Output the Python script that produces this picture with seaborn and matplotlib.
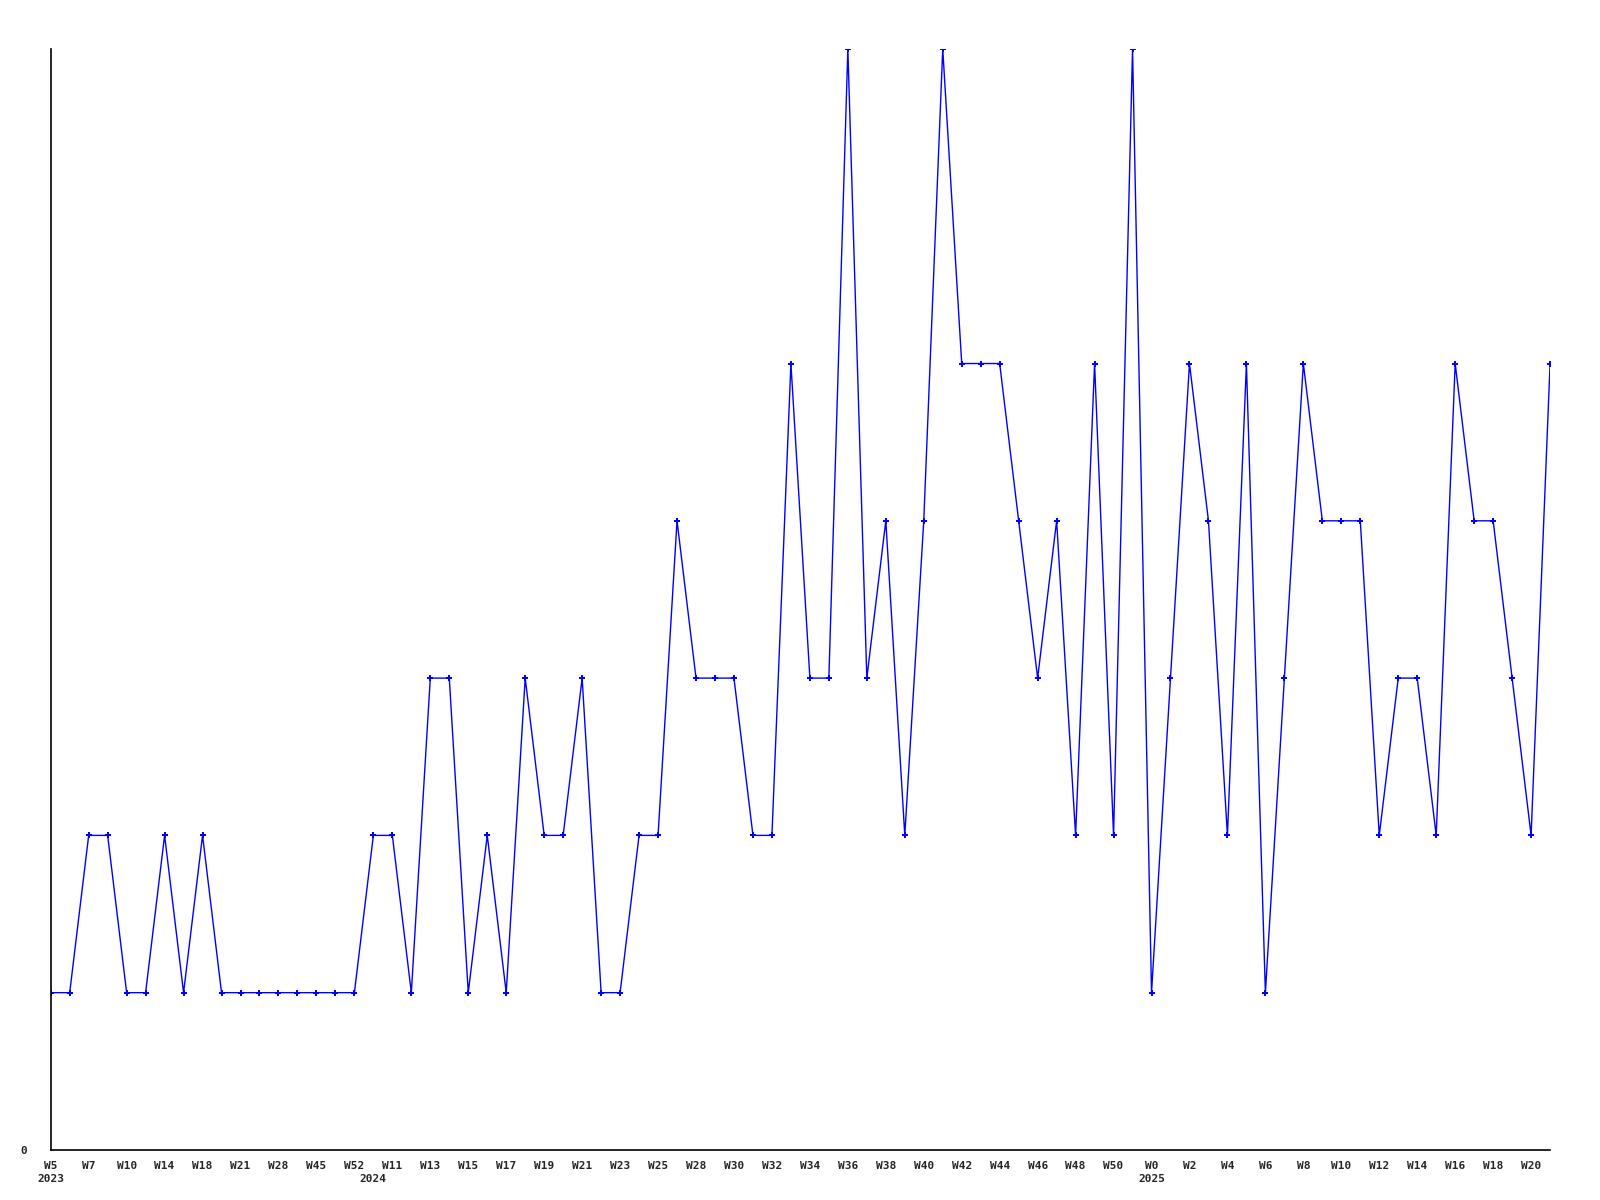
import numpy as np
import pandas as pd
import matplotlib
matplotlib.use('Agg')
import matplotlib.pyplot as plt
import seaborn as sns
from matplotlib.transforms import blended_transform_factory

counts = [1, 1, 2, 2, 1, 1, 2, 1, 2, 1,
          1, 1, 1, 1, 1, 1, 1, 2, 2, 1,
          3, 3, 1, 2, 1, 3, 2, 2, 3, 1,
          1, 2, 2, 4, 3, 3, 3, 2, 2, 5,
          3, 3, 7, 3, 4, 2, 4, 7, 5, 5,
          5, 4, 3, 4, 2, 5, 2, 7, 1, 3,
          5, 4, 2, 5, 1, 3, 5, 4, 4, 4,
          2, 3, 3, 2, 5, 4, 4, 3, 2, 5]

week_labels = ['W5', 'W7', 'W10', 'W14', 'W18', 'W21', 'W28', 'W45', 'W52', 'W11',
               'W13', 'W15', 'W17', 'W19', 'W21', 'W23', 'W25', 'W28', 'W30', 'W32',
               'W34', 'W36', 'W38', 'W40', 'W42', 'W44', 'W46', 'W48', 'W50', 'W0',
               'W2', 'W4', 'W6', 'W8', 'W10', 'W12', 'W14', 'W16', 'W18', 'W20']
year_labels = ['2023', '2024', '2025']
year_starts = [0, 17, 58]

df = pd.DataFrame({'idx': np.arange(len(counts)), 'count': counts})

sns.set_style('white')
plt.rcParams['font.family'] = ['DejaVu Sans Mono']

fig = plt.figure(figsize=(16, 12), dpi=100)
ax = fig.add_axes([0.0317, 0.0417, 0.9371, 0.9175])

sns.lineplot(data=df, x='idx', y='count', ax=ax, color='#0000FF', linewidth=1.0,
             marker='P', markersize=4.5, markeredgewidth=0, estimator=None)

ax.set_xlim(0, len(counts) - 1)
ax.set_ylim(0, 7)
sns.despine(ax=ax)
for s in ['left', 'bottom']:
    ax.spines[s].set_color('black')
    ax.spines[s].set_linewidth(1.2)

ax.set_xticks(np.arange(0, len(counts), 2))
ax.set_xticklabels(week_labels, fontsize=8, fontweight='bold')
ax.set_yticks([0])
ax.set_yticklabels(['0'], fontsize=8, fontweight='bold')
ax.tick_params(axis='x', length=0, pad=8)
ax.tick_params(axis='y', length=0, pad=17)
ax.set_xlabel('')
ax.set_ylabel('')

trans = blended_transform_factory(ax.transData, ax.transAxes)
for lab, pos in zip(year_labels, year_starts):
    ax.text(pos, -0.026, lab, transform=trans, ha='center', va='center',
            fontsize=8, fontweight='bold')

fig.savefig('out.png', dpi=100)
